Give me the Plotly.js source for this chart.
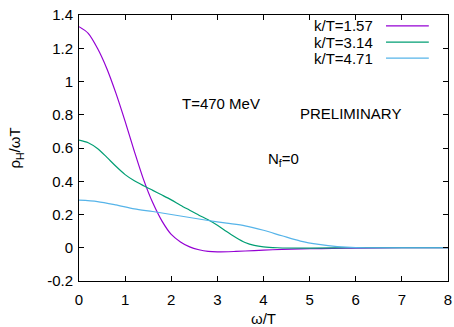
<!DOCTYPE html>
<html>
<head>
<meta charset="utf-8">
<script src="https://cdn.plot.ly/plotly-3.0.1.min.js"></script>
<style>html,body{margin:0;padding:0;background:#fff;}#chart{width:454px;height:327px;}</style>
</head>
<body>
<div id="chart"></div>
<script>
// Series names
const seriesNames = ["k/T=1.57", "k/T=3.14", "k/T=4.71"];
const seriesColors = ["#9400d3", "#009e73", "#56b4e9"];

// k/T = 1.57
const x1 = [0, 0.2, 0.4, 0.6, 0.8, 1.0, 1.2, 1.4, 1.6, 1.8, 2.0, 2.2, 2.4, 2.6, 2.8, 3.0, 3.4, 3.8, 4.2, 4.6, 5.0, 5.5, 6.0, 7.0, 8.0];
const y1 = [1.33, 1.29, 1.20, 1.08, 0.93, 0.76, 0.58, 0.41, 0.27, 0.16, 0.08, 0.035, 0.005, -0.012, -0.022, -0.025, -0.022, -0.017, -0.012, -0.008, -0.006, -0.004, -0.002, 0.0, 0.0];

// k/T = 3.14
const x2 = [0, 0.2, 0.4, 0.6, 0.8, 1.0, 1.2, 1.4, 1.6, 1.8, 2.0, 2.2, 2.4, 2.6, 2.8, 3.0, 3.2, 3.4, 3.6, 3.8, 4.0, 4.3, 5.0, 6.0, 8.0];
const y2 = [0.648, 0.632, 0.597, 0.545, 0.49, 0.44, 0.403, 0.373, 0.345, 0.317, 0.288, 0.256, 0.226, 0.196, 0.168, 0.135, 0.098, 0.062, 0.032, 0.014, 0.005, 0.0, -0.002, 0.0, 0.0];

// k/T = 4.71
const x3 = [0, 0.4, 0.8, 1.2, 1.6, 2.0, 2.4, 2.8, 3.2, 3.6, 4.0, 4.4, 4.8, 5.2, 5.6, 6.0, 7.0, 8.0];
const y3 = [0.286, 0.278, 0.258, 0.234, 0.218, 0.2, 0.182, 0.164, 0.148, 0.132, 0.105, 0.072, 0.04, 0.02, 0.007, 0.001, 0.0, 0.0];

// Tick labels
const xTickVals = [0, 1, 2, 3, 4, 5, 6, 7, 8];
const xTickText = ["0", "1", "2", "3", "4", "5", "6", "7", "8"];
const yTickVals = [-0.2, 0, 0.2, 0.4, 0.6, 0.8, 1.0, 1.2, 1.4];
const yTickText = ["-0.2", "0", "0.2", "0.4", "0.6", "0.8", "1", "1.2", "1.4"];

const xs = [x1, x2, x3];
const ys = [y1, y2, y3];

const font = {family: "Liberation Sans, Arial, sans-serif", size: 15, color: "#000"};

const traces = xs.map((xv, i) => ({
  x: xv, y: ys[i], type: "scatter", mode: "lines", name: seriesNames[i],
  line: {color: seriesColors[i], width: 1.2, shape: "spline", smoothing: 0.8},
  showlegend: false, hoverinfo: "skip"
}));

// Custom gnuplot-style legend (text right, sample line after)
const legRowY = [0.959, 0.898, 0.838];
const annotations = seriesNames.map((n, i) => ({
  xref: "paper", yref: "paper", x: 0.802, y: legRowY[i], xanchor: "right", yanchor: "middle",
  text: n, showarrow: false, font: font
}));
const shapes = seriesNames.map((n, i) => ({
  type: "line", xref: "paper", yref: "paper", x0: 0.832, x1: 0.948, y0: legRowY[i], y1: legRowY[i],
  line: {color: seriesColors[i], width: 1.2}
}));

annotations.push(
  {xref: "x", yref: "y", x: 3.08, y: 0.87, text: "T=470 MeV", showarrow: false, font: font, xanchor: "center", yanchor: "middle"},
  {xref: "x", yref: "y", x: 5.88, y: 0.81, text: "PRELIMINARY", showarrow: false, font: font, xanchor: "center", yanchor: "middle"},
  {xref: "x", yref: "y", x: 4.43, y: 0.53, text: "N<sub>f</sub>=0", showarrow: false, font: font, xanchor: "center", yanchor: "middle"}
);

const axisCommon = {
  showgrid: false, zeroline: false, showline: true, linecolor: "#000", linewidth: 1,
  mirror: "allticks", ticks: "inside", ticklen: 5, tickcolor: "#000", tickwidth: 1,
  tickfont: font
};

const layout = {
  width: 454, height: 327,
  margin: {l: 79, r: 6, t: 15, b: 46},
  paper_bgcolor: "#fff", plot_bgcolor: "#fff",
  font: font,
  showlegend: false,
  xaxis: Object.assign({}, axisCommon, {
    range: [0, 8], tickmode: "array", tickvals: xTickVals, ticktext: xTickText,
    ticklabelstandoff: 5,
    title: {text: "ω/T", font: font, standoff: 6}
  }),
  yaxis: Object.assign({}, axisCommon, {
    range: [-0.2, 1.4], tickmode: "array", tickvals: yTickVals, ticktext: yTickText,
    ticklabelstandoff: 2,
    title: {text: "ρ<sub>H</sub>/ωT", font: font, standoff: 22}
  }),
  annotations: annotations,
  shapes: shapes
};

Plotly.newPlot("chart", traces, layout, {displayModeBar: false, staticPlot: true});
</script>
</body>
</html>
